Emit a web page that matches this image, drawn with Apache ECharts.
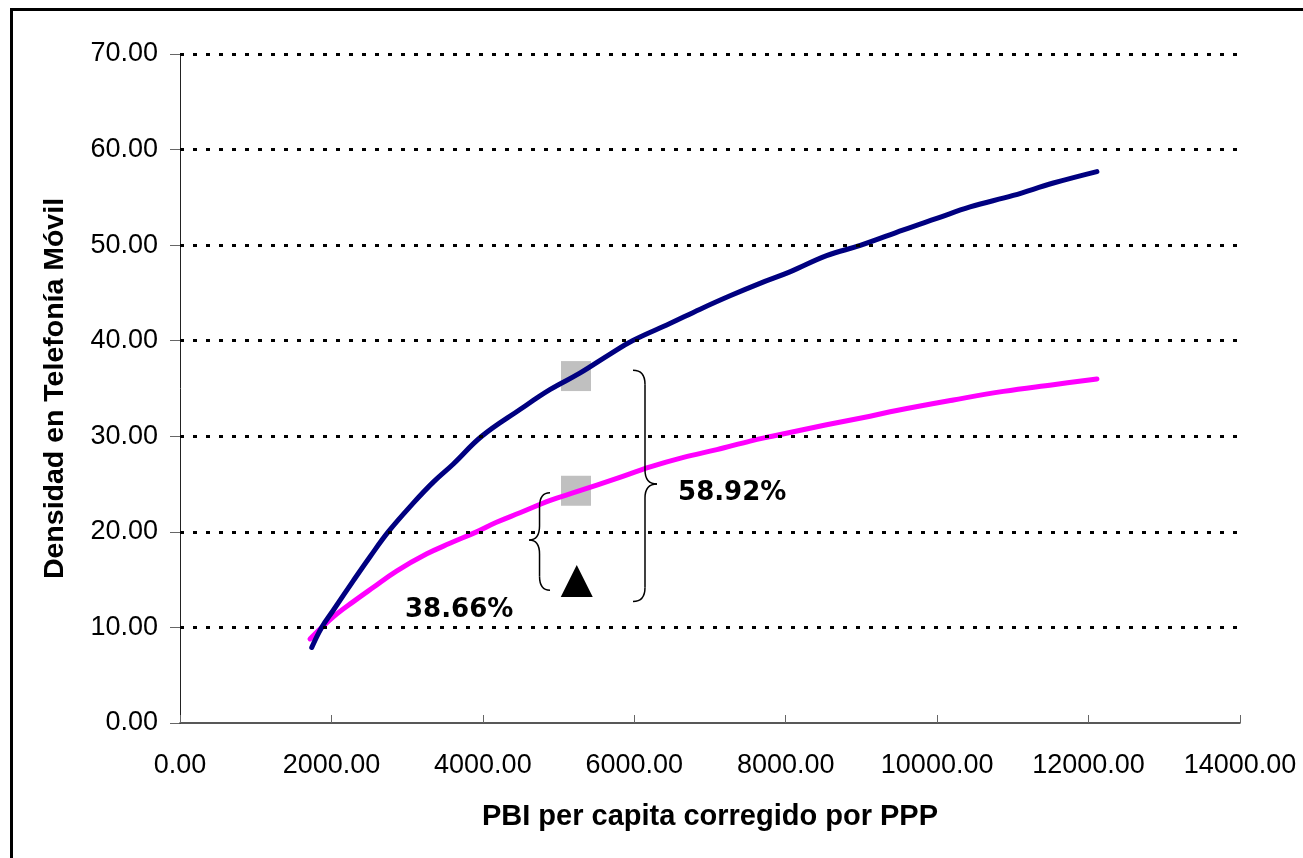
<!DOCTYPE html>
<html>
<head>
<meta charset="utf-8">
<script src="https://cdn.jsdelivr.net/npm/echarts@6/dist/echarts.min.js"></script>
<style>
html,body{margin:0;padding:0;background:#fff;}
#chart{width:1303px;height:858px;}
</style>
</head>
<body>
<div id="chart"></div>
<script>
// Data
const navyX = [1740, 1871, 2025, 2290, 2510, 2750, 3080, 3345, 3610, 3985, 4490, 4890, 5280, 5680, 5975, 6470, 6870, 7265, 7660, 8055, 8540, 8994, 9555, 9995, 10435, 11005, 11535, 12110];
const navyY = [7.9, 10.0, 11.8, 14.9, 17.4, 20.0, 23.0, 25.2, 27.1, 30.0, 32.8, 34.9, 36.6, 38.6, 40.0, 41.8, 43.3, 44.7, 46.0, 47.2, 48.9, 50.0, 51.6, 52.8, 54.0, 55.2, 56.5, 57.7];
const magX = [1717, 2025, 2290, 2555, 2860, 3260, 3565, 3917, 4180, 4490, 4890, 5240, 5770, 6210, 6650, 7090, 7530, 7820, 8540, 9115, 9465, 10215, 10875, 11535, 12110];
const magY = [8.8, 11.1, 12.7, 14.2, 15.9, 17.7, 18.8, 20.0, 21.0, 22.0, 23.3, 24.2, 25.6, 26.8, 27.8, 28.6, 29.5, 30.0, 31.2, 32.1, 32.7, 33.8, 34.7, 35.4, 36.0];
const squareMarkers = [[5230, 36.3], [5230, 24.3]];
const triangleMarkers = [[5240, 14.85]];
const xTicks = [0, 2000, 4000, 6000, 8000, 10000, 12000, 14000];
const yTicks = [0, 10, 20, 30, 40, 50, 60, 70];
const labelTexts = ['58.92%', '38.66%'];
const labelPos = [[6578, 24.07], [2972, 11.8]];
// braces: [xEnds, xTip, yTop, yBottom, yTip]
const bigBrace = [5983, 6300, 36.9, 12.7, 25.0];
const smallBrace = [4887, 4610, 24.1, 13.9, 19.15];
const xTitle = 'PBI per capita corregido por PPP';
const yTitle = 'Densidad en Telefonía Móvil';

const pairs = (xs, ys) => xs.map((x, i) => [x, ys[i]]);
const chart = echarts.init(document.getElementById('chart'));
const FONT = "'Liberation Sans', Arial, sans-serif";

chart.setOption({
  animation: false,
  backgroundColor: '#fff',
  grid: {left: 180, right: 63, top: 54, bottom: 135},
  xAxis: {
    type: 'value', min: xTicks[0], max: xTicks[xTicks.length - 1], interval: 2000,
    z: 5,
    axisLine: {show: true, lineStyle: {color: '#222', width: 1.5}},
    axisTick: {show: true, inside: true, length: 8, lineStyle: {color: '#666', width: 1}},
    splitLine: {show: false},
    axisLabel: {color: '#000', fontSize: 27, fontFamily: FONT, margin: 29, formatter: v => v.toFixed(2)},
    name: xTitle, nameLocation: 'middle', nameGap: 79,
    nameTextStyle: {color: '#000', fontSize: 29, fontWeight: 'bold', fontFamily: FONT}
  },
  yAxis: {
    type: 'value', min: yTicks[0], max: yTicks[yTicks.length - 1], interval: 10,
    axisLine: {show: true, lineStyle: {color: '#222', width: 1}},
    axisTick: {show: true, inside: false, length: 10, lineStyle: {color: '#666', width: 1}},
    splitLine: {show: false},
    axisLabel: {color: '#000', fontSize: 27, fontFamily: FONT, margin: 22, formatter: v => v.toFixed(2)},
    name: yTitle, nameLocation: 'middle', nameGap: 110, nameRotate: 90,
    nameTextStyle: {color: '#000', fontSize: 28.5, fontWeight: 'bold', fontFamily: FONT}
  },
  series: [
    {type: 'scatter', z: 1, symbol: 'rect', symbolSize: 30, itemStyle: {color: '#C0C0C0', opacity: 1}, data: squareMarkers,
     markLine: {silent: true, symbol: 'none', label: {show: false}, animation: false,
       lineStyle: {color: '#000', width: 3, type: [4, 9], opacity: 1},
       emphasis: {disabled: true},
       data: yTicks.filter(v => v > 0).map(v => ({yAxis: v}))}},
    {type: 'scatter', z: 1, symbol: 'triangle', symbolSize: 32, itemStyle: {color: '#000', opacity: 1}, data: triangleMarkers},
    {type: 'line', z: 3, data: pairs(navyX, navyY), symbol: 'none', smooth: 0.4,
     lineStyle: {color: '#000080', width: 5, cap: 'round', join: 'round'}},
    {type: 'line', z: 2, data: pairs(magX, magY), symbol: 'none', smooth: 0.4,
     lineStyle: {color: '#FF00FF', width: 5, cap: 'round', join: 'round'}}
  ]
});

function px(p) { return chart.convertToPixel({gridIndex: 0}, p); }
function braceElements(b) {
  const e = px([b[0], b[2]]);
  const t = px([b[1], b[4]]);
  const bt = px([b[0], b[3]]);
  const xe = e[0], xt = t[0], xs = (xe + xt) / 2;
  const yTop = e[1], yBot = bt[1], yTip = t[1];
  const r = 14;
  const st = {fill: 'none', stroke: '#000', lineWidth: 1.5};
  return [
    {type: 'bezierCurve', z: 10, shape: {x1: xe, y1: yTop, cpx1: xs, cpy1: yTop, x2: xs, y2: yTop + r}, style: st},
    {type: 'line', z: 10, shape: {x1: xs, y1: yTop + r, x2: xs, y2: yTip - r}, style: st},
    {type: 'bezierCurve', z: 10, shape: {x1: xs, y1: yTip - r, cpx1: xs, cpy1: yTip, x2: xt, y2: yTip}, style: st},
    {type: 'bezierCurve', z: 10, shape: {x1: xt, y1: yTip, cpx1: xs, cpy1: yTip, x2: xs, y2: yTip + r}, style: st},
    {type: 'line', z: 10, shape: {x1: xs, y1: yTip + r, x2: xs, y2: yBot - r}, style: st},
    {type: 'bezierCurve', z: 10, shape: {x1: xs, y1: yBot - r, cpx1: xs, cpy1: yBot, x2: xe, y2: yBot}, style: st}
  ];
}
const graphics = [
  {type: 'rect', z: 10, shape: {x: 11.5, y: 9.5, width: 1400, height: 1000}, style: {fill: 'none', stroke: '#000', lineWidth: 3}}
].concat(braceElements(bigBrace), braceElements(smallBrace));
labelTexts.forEach((t, i) => {
  const p = px(labelPos[i]);
  graphics.push({type: 'text', x: p[0], y: p[1], z: 10,
    style: {text: t, fill: '#000', font: "bold 26px 'DejaVu Sans', sans-serif", align: 'left', verticalAlign: 'middle'}});
});
chart.setOption({graphic: graphics});
</script>
</body>
</html>
